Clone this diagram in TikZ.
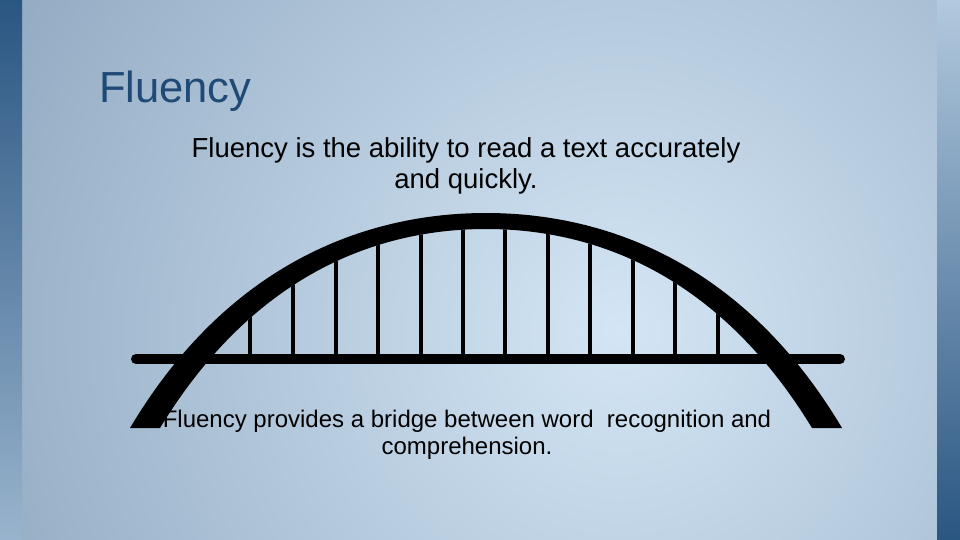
\documentclass[tikz,border=0pt]{standalone}
\usepackage{fontspec}
\setmainfont{Liberation Sans}
\begin{document}
\begin{tikzpicture}[x=1pt,y=-1pt,
  body/.style={align=center,text=black,inner sep=0},
  hanger/.style={line width=4.5pt}]
\useasboundingbox (0,0) rectangle (960,540);
\definecolor{lightbg}{HTML}{D4E6F5}
\definecolor{darkbg}{HTML}{92AAC2}
\definecolor{strip}{HTML}{2A5682}
\definecolor{titlec}{HTML}{1F4A75}
\begin{scope}
\clip (0,0) rectangle (960,540);
\shade[inner color=lightbg,outer color=darkbg] (620,330) circle (700);
\end{scope}
\shade[top color=strip,bottom color=strip!35!lightbg] (0,0) rectangle (22,540);
\shade[top color=lightbg!80!strip,bottom color=strip] (937,0) rectangle (960,540);
\node[anchor=base west,font=\fontsize{43.5}{48}\selectfont,text=titlec,inner sep=0] (title) at (99,103) {Fluency};
\node[body,font=\fontsize{27.5}{31}\selectfont] (top) at (466,166) {Fluency is the ability to read a text accurately\\and quickly.};
% hangers
\begin{scope}
\clip (160,428) .. controls (255,272) and (380,229) .. (486,229)
  .. controls (592,229) and (717,272) .. (812,428) -- cycle;
\foreach \x in {250,293,336,378,421,463,505,548,590,633,675,718}
  \draw[hanger] (\x,150) -- (\x,358);
\end{scope}
% deck
\draw[line width=10pt,line cap=round] (136,359) -- (840,359);
% arch
\fill (130,428) .. controls (230,260) and (370,213) .. (486,213)
  .. controls (602,213) and (742,260) .. (842,428)
  -- (812,428) .. controls (717,272) and (592,229) .. (486,229)
  .. controls (380,229) and (255,272) .. (160,428) -- cycle;
\node[body,font=\fontsize{24}{27}\selectfont] (bottom) at (467,435) {Fluency provides a bridge between word\ \ recognition and\\comprehension.};
\end{tikzpicture}
\end{document}
